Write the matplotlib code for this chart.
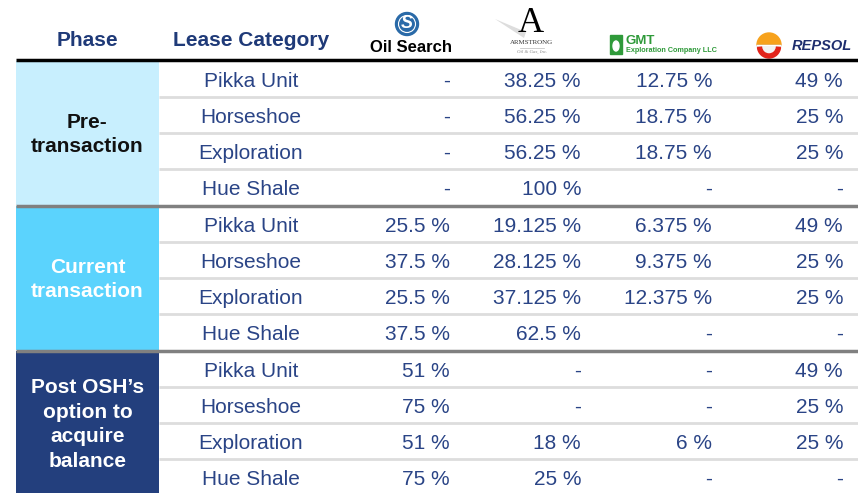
import matplotlib.pyplot as plt
from matplotlib.patches import Rectangle, Circle, Wedge, Ellipse

plt.rcParams['font.family'] = ['Liberation Sans', 'DejaVu Sans']

phases = ["Pre-\ntransaction", "Current\ntransaction", "Post OSH\u2019s\noption to\nacquire\nbalance"]
leases = ["Pikka Unit", "Horseshoe", "Exploration", "Hue Shale"]
oil_search = ["-", "-", "-", "-", "25.5 %", "37.5 %", "25.5 %", "37.5 %", "51 %", "75 %", "51 %", "75 %"]
armstrong = ["38.25 %", "56.25 %", "56.25 %", "100 %", "19.125 %", "28.125 %", "37.125 %", "62.5 %",
             "-", "-", "18 %", "25 %"]
gmt = ["12.75 %", "18.75 %", "18.75 %", "-", "6.375 %", "9.375 %", "12.375 %", "-", "-", "-", "6 %", "-"]
repsol = ["49 %", "25 %", "25 %", "-", "49 %", "25 %", "25 %", "-", "49 %", "25 %", "25 %", "-"]

columns = [oil_search, armstrong, gmt, repsol]
col_right = [450, 581, 712, 843]

band_colors = ["#c8effe", "#5bd3fd", "#233f7d"]
phase_text = ["#111111", "white", "white"]
navy = "#2a4486"
head = "#1f3a78"

fig = plt.figure(figsize=(8.58, 4.93), dpi=100)
ax = fig.add_axes([0, 0, 1, 1])
ax.set_xlim(0, 858)
ax.set_ylim(493, 0)
ax.axis("off")

# header
ax.text(87, 41, "Phase", ha="center", va="center", fontsize=15, fontweight="bold", color=head)
ax.text(251, 41, "Lease Category", ha="center", va="center", fontsize=15, fontweight="bold", color=head)

# Oil Search logo
ax.add_patch(Circle((407, 24), 11.5, color="#2a6aa8"))
ax.add_patch(Circle((407, 24), 8.5, fill=False, ec="white", lw=0.8))
ax.text(407, 24, "S", ha="center", va="center", fontsize=13, fontstyle="italic", color="white", fontweight="bold")
ax.text(411, 48, "Oil Search", ha="center", va="center", fontsize=12, fontweight="bold", color="black")

# Armstrong logo
ax.fill([495, 526, 524], [19, 32, 38], color="#dddddd", lw=0)
ax.text(531, 23, "A", ha="center", va="center", fontsize=26, color="black", family="Liberation Serif")
ax.text(532, 43, "ARMSTRONG", ha="center", va="center", fontsize=5, color="#333333", family="Liberation Serif")
ax.plot([520, 544], [47.5, 47.5], color="#bbbbbb", lw=0.5)
ax.text(532, 52, "Oil & Gas, Inc.", ha="center", va="center", fontsize=3.5, color="#888888",
        family="Liberation Serif", fontstyle="italic")

# GMT logo
ax.add_patch(Rectangle((610, 35), 12, 19, color="#2f9a3a"))
ax.add_patch(Ellipse((616, 46), 6, 10, color="white"))
ax.text(626, 44.5, "GMT", ha="left", va="baseline", fontsize=9.5, fontweight="bold", color="#2f9a3a")
ax.text(626, 52, "Exploration Company LLC", ha="left", va="baseline", fontsize=5.2, fontweight="bold",
        color="#2f9a3a")

# Repsol logo (y axis is inverted, so 180-360 is the upper half)
ax.add_patch(Wedge((769, 45), 12, 180, 360, color="#f7a21c"))
ax.add_patch(Wedge((769, 45), 12, 0, 180, color="#f2f2f2", ec="#cccccc", lw=0.5))
ax.add_patch(Wedge((769, 46.5), 11.5, 5, 175, width=4, color="#e2231a"))
ax.add_patch(Rectangle((757, 44.8), 24, 1.6, color="white", lw=0))
ax.text(792, 46, "REPSOL", ha="left", va="center", fontsize=10.5, fontweight="bold",
        fontstyle="italic", color="#1f2e6e")

ax.plot([16, 858], [60, 60], color="black", lw=2.5, solid_capstyle="butt")

row_h = 36
for b, phase in enumerate(phases):
    top = 61 + b * 145
    ax.add_patch(Rectangle((16, top), 143, 4 * row_h, color=band_colors[b], lw=0))
    ax.text(87.5, top + 2 * row_h + 1.5, phase, ha="center", va="center", fontsize=15, fontweight="bold",
            color=phase_text[b], linespacing=1.38)
    for r, lease in enumerate(leases):
        yc = top + r * row_h + row_h / 2 + 2.5
        i = b * 4 + r
        ax.text(251, yc, lease, ha="center", va="center", fontsize=15, color=navy)
        for col, xr in zip(columns, col_right):
            ax.text(xr, yc, col[i], ha="right", va="center", fontsize=15, color=navy)
        if r < 3:
            ax.plot([159, 858], [top + (r + 1) * row_h] * 2, color="#dddddd", lw=2, solid_capstyle="butt")
    if b < 2:
        ax.plot([16, 858], [top + 4 * row_h + 1] * 2, color="#808080", lw=2.5, solid_capstyle="butt")

fig.savefig("out.png", dpi=100)
